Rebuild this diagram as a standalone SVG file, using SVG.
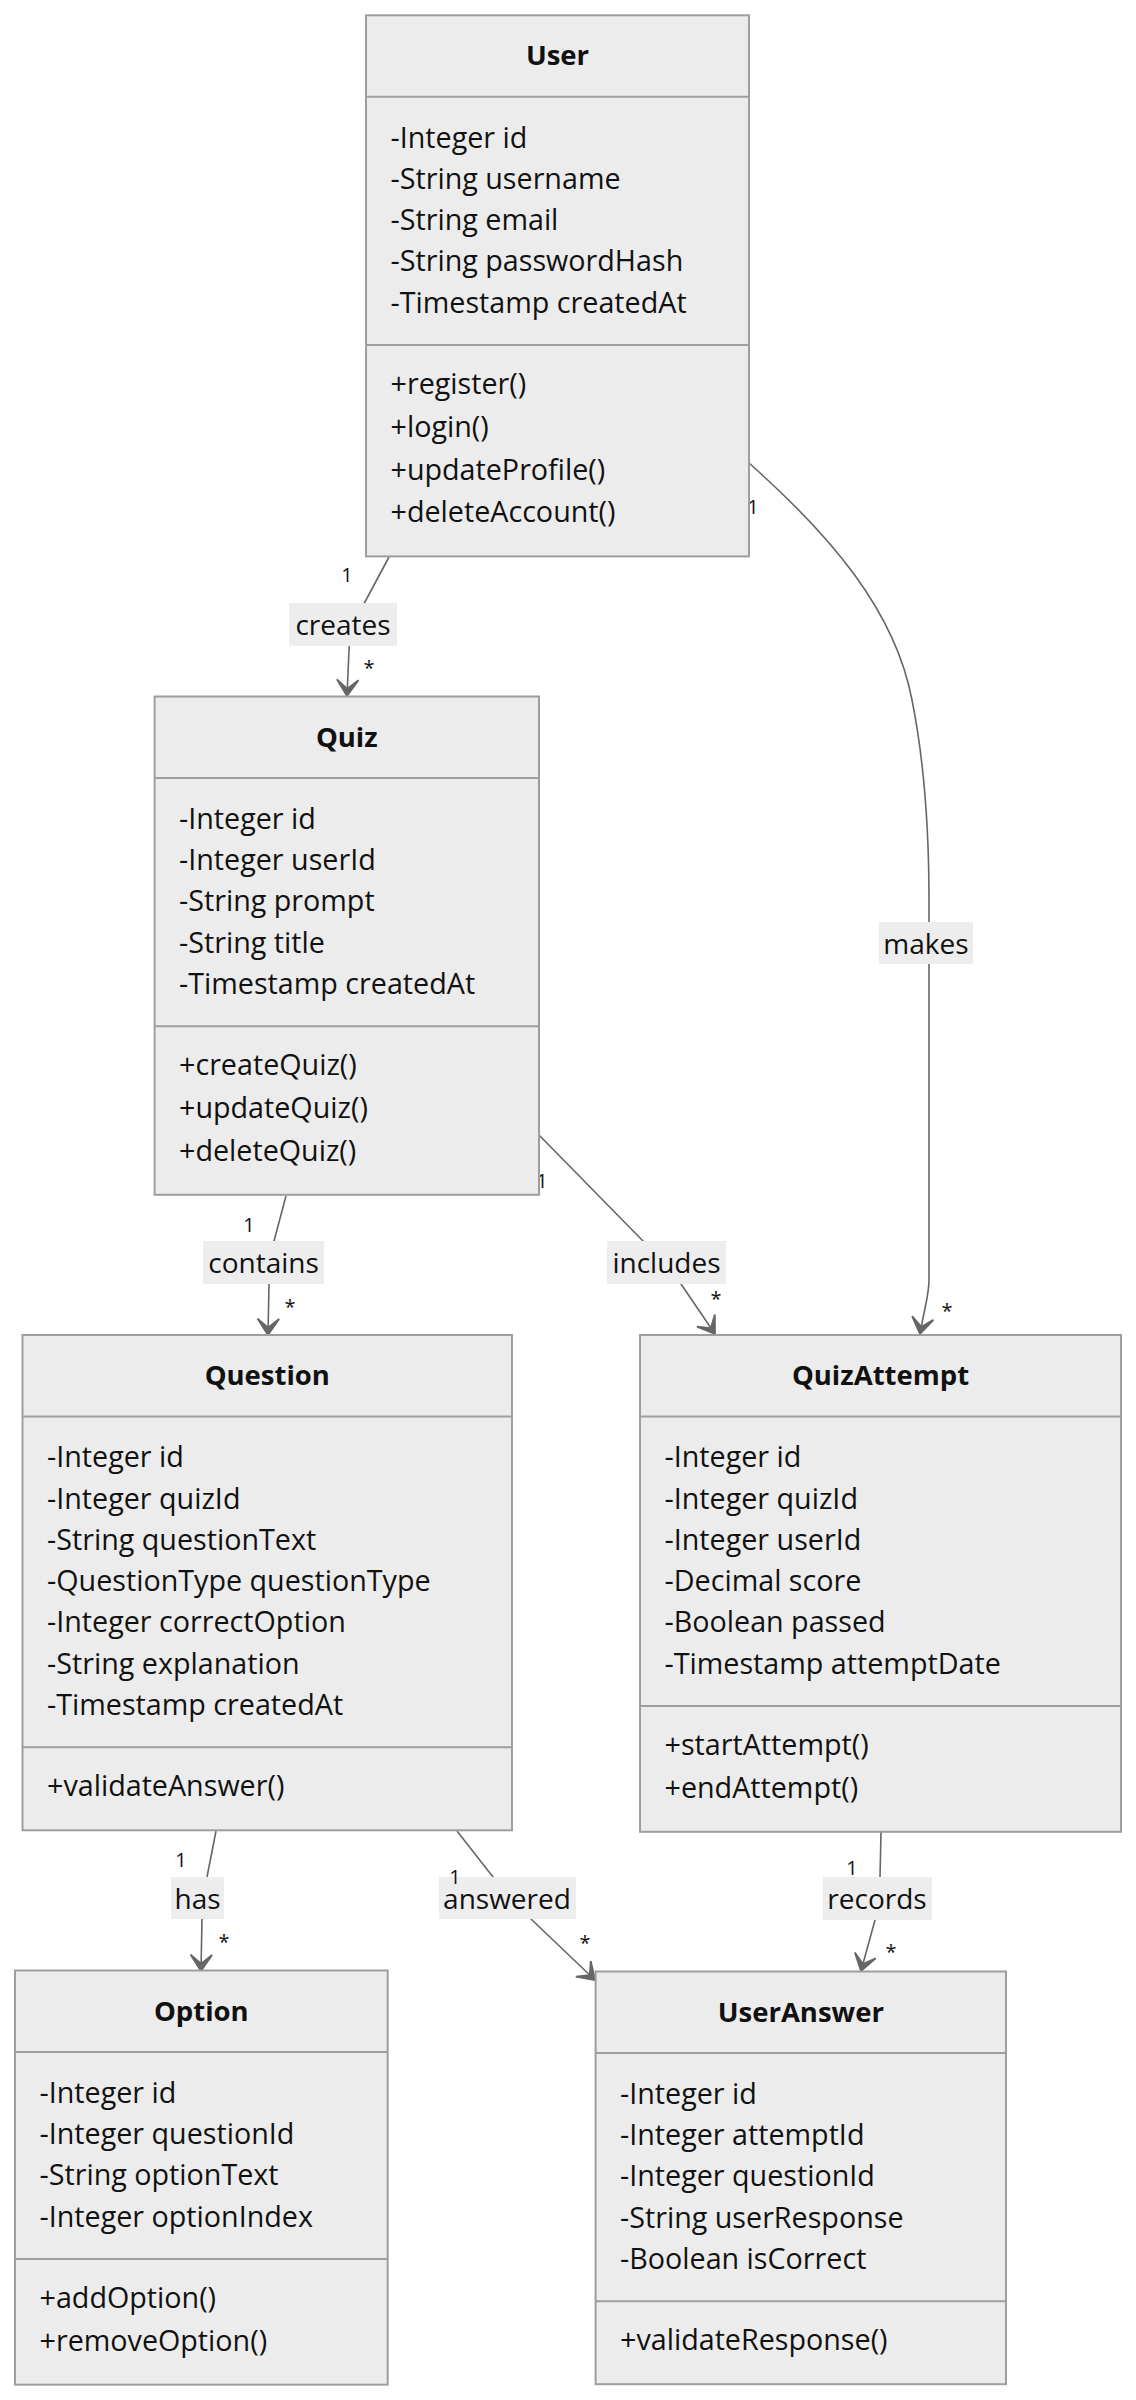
<svg xmlns="http://www.w3.org/2000/svg" width="1136" height="2400" viewBox="0 0 1136 2400">
<style>
.box{fill:#ECECEC;stroke:#9E9E9E;stroke-width:2}
.div{stroke:#9E9E9E;stroke-width:2}
.t{font-family:"Open Sans","DejaVu Sans",sans-serif;font-size:28.7px;fill:#111}
.title{font-family:"Open Sans","DejaVu Sans",sans-serif;font-size:27.5px;font-weight:bold;fill:#111;text-anchor:middle}
.edge{fill:none;stroke:#666;stroke-width:1.6}
.lbg{fill:#EDEDED}
.lbl{font-family:"Open Sans","DejaVu Sans",sans-serif;font-size:28px;fill:#111;text-anchor:middle}
.m{font-family:"Open Sans","DejaVu Sans",sans-serif;font-size:20px;fill:#111;text-anchor:middle}
</style>
<defs>
<marker id="arr" markerUnits="userSpaceOnUse" viewBox="0 0 20 14" refX="18" refY="7" markerWidth="36" markerHeight="25.2" orient="auto">
<path d="M18,7 L9,13 L14,7 L9,1 Z" fill="#666" stroke="#666" stroke-width="1"/>
</marker>
</defs>
<rect width="1136" height="2400" fill="#fff"/>

<g id="connectors">
<path class="edge" d="M389,557 L366,600 Q350,628 349,650 L347,696" marker-end="url(#arr)"/>
<path class="edge" d="M286,1196 L274,1241 Q269,1262 269,1284 L268,1335" marker-end="url(#arr)"/>
<path class="edge" d="M539,1135 L643,1241 Q668,1266 681,1284 L715,1334" marker-end="url(#arr)"/>
<path class="edge" d="M749,463 C830,535 895,610 912,700 C924,760 929,820 929,900 L929,1280 C929,1295 925,1305 920,1334" marker-end="url(#arr)"/>
<path class="edge" d="M216,1831 L207,1877 Q202,1898 202,1919 L201,1971" marker-end="url(#arr)"/>
<path class="edge" d="M457,1831 L493,1877 Q510,1900 531,1919 L595,1980" marker-end="url(#arr)"/>
<path class="edge" d="M881,1832 L880,1877 Q878,1900 875,1920 L861,1971" marker-end="url(#arr)"/>

<rect class="lbg" x="289" y="603" width="108" height="43"/>
<text class="lbl" x="343" y="635">creates</text>
<rect class="lbg" x="203" y="1241" width="121" height="43"/>
<text class="lbl" x="263.5" y="1273">contains</text>
<rect class="lbg" x="607" y="1241" width="119" height="43"/>
<text class="lbl" x="666.5" y="1273">includes</text>
<rect class="lbg" x="879" y="922" width="94" height="42"/>
<text class="lbl" x="926" y="953.5">makes</text>
<rect class="lbg" x="171" y="1877" width="53" height="42"/>
<text class="lbl" x="197.5" y="1908.5">has</text>
<rect class="lbg" x="439" y="1877" width="137" height="42"/>
<text class="lbl" x="507" y="1908.5">answered</text>
<rect class="lbg" x="823" y="1877" width="109" height="43"/>
<text class="lbl" x="877" y="1909">records</text>

<text class="m" x="347" y="582">1</text>
<text class="m" x="369" y="675">*</text>
<text class="m" x="249" y="1232">1</text>
<text class="m" x="290" y="1314">*</text>
<text class="m" x="542" y="1188">1</text>
<text class="m" x="716" y="1306">*</text>
<text class="m" x="753" y="514">1</text>
<text class="m" x="947" y="1318">*</text>
<text class="m" x="181" y="1867">1</text>
<text class="m" x="224" y="1949">*</text>
<text class="m" x="455" y="1884">1</text>
<text class="m" x="585" y="1950">*</text>
<text class="m" x="852" y="1875">1</text>
<text class="m" x="891" y="1959">*</text>
</g>

<g id="User">
<rect class="box" x="366" y="15.3" width="383" height="541.1"/>
<line class="div" x1="366" y1="96.8" x2="749" y2="96.8"/>
<line class="div" x1="366" y1="345" x2="749" y2="345"/>
<text class="title" x="557.5" y="65.3">User</text>
<text class="t" x="390.5" y="147.5">-Integer id</text>
<text class="t" x="390.5" y="188.8">-String username</text>
<text class="t" x="390.5" y="230.1">-String email</text>
<text class="t" x="390.5" y="271.4">-String passwordHash</text>
<text class="t" x="390.5" y="312.7">-Timestamp createdAt</text>
<text class="t" x="390.5" y="394">+register()</text>
<text class="t" x="390.5" y="436.8">+login()</text>
<text class="t" x="390.5" y="479.6">+updateProfile()</text>
<text class="t" x="390.5" y="522.4">+deleteAccount()</text>
</g>

<g id="Quiz">
<rect class="box" x="154.6" y="696.5" width="384.4" height="498.3"/>
<line class="div" x1="154.6" y1="778" x2="539" y2="778"/>
<line class="div" x1="154.6" y1="1026.2" x2="539" y2="1026.2"/>
<text class="title" x="346.8" y="746.5">Quiz</text>
<text class="t" x="179" y="828.7">-Integer id</text>
<text class="t" x="179" y="870">-Integer userId</text>
<text class="t" x="179" y="911.3">-String prompt</text>
<text class="t" x="179" y="952.6">-String title</text>
<text class="t" x="179" y="993.9">-Timestamp createdAt</text>
<text class="t" x="179" y="1075.2">+createQuiz()</text>
<text class="t" x="179" y="1118">+updateQuiz()</text>
<text class="t" x="179" y="1160.8">+deleteQuiz()</text>
</g>

<g id="Question">
<rect class="box" x="22.5" y="1335" width="489.5" height="495.3"/>
<line class="div" x1="22.5" y1="1416.5" x2="512" y2="1416.5"/>
<line class="div" x1="22.5" y1="1747.3" x2="512" y2="1747.3"/>
<text class="title" x="267.3" y="1385">Question</text>
<text class="t" x="47" y="1467.2">-Integer id</text>
<text class="t" x="47" y="1508.5">-Integer quizId</text>
<text class="t" x="47" y="1549.8">-String questionText</text>
<text class="t" x="47" y="1591.1">-QuestionType questionType</text>
<text class="t" x="47" y="1632.4">-Integer correctOption</text>
<text class="t" x="47" y="1673.7">-String explanation</text>
<text class="t" x="47" y="1715">-Timestamp createdAt</text>
<text class="t" x="47" y="1796.3">+validateAnswer()</text>
</g>

<g id="QuizAttempt">
<rect class="box" x="640" y="1335" width="481" height="496.8"/>
<line class="div" x1="640" y1="1416.5" x2="1121" y2="1416.5"/>
<line class="div" x1="640" y1="1706" x2="1121" y2="1706"/>
<text class="title" x="880.5" y="1385">QuizAttempt</text>
<text class="t" x="664.5" y="1467.2">-Integer id</text>
<text class="t" x="664.5" y="1508.5">-Integer quizId</text>
<text class="t" x="664.5" y="1549.8">-Integer userId</text>
<text class="t" x="664.5" y="1591.1">-Decimal score</text>
<text class="t" x="664.5" y="1632.4">-Boolean passed</text>
<text class="t" x="664.5" y="1673.7">-Timestamp attemptDate</text>
<text class="t" x="664.5" y="1755">+startAttempt()</text>
<text class="t" x="664.5" y="1797.8">+endAttempt()</text>
</g>

<g id="Option">
<rect class="box" x="15" y="1970.5" width="372.7" height="414.2"/>
<line class="div" x1="15" y1="2052" x2="387.7" y2="2052"/>
<line class="div" x1="15" y1="2258.9" x2="387.7" y2="2258.9"/>
<text class="title" x="201.3" y="2020.5">Option</text>
<text class="t" x="39.5" y="2102.7">-Integer id</text>
<text class="t" x="39.5" y="2144">-Integer questionId</text>
<text class="t" x="39.5" y="2185.3">-String optionText</text>
<text class="t" x="39.5" y="2226.6">-Integer optionIndex</text>
<text class="t" x="39.5" y="2307.9">+addOption()</text>
<text class="t" x="39.5" y="2350.7">+removeOption()</text>
</g>

<g id="UserAnswer">
<rect class="box" x="595.6" y="1971.5" width="410.4" height="412.7"/>
<line class="div" x1="595.6" y1="2053" x2="1006" y2="2053"/>
<line class="div" x1="595.6" y1="2301.2" x2="1006" y2="2301.2"/>
<text class="title" x="800.8" y="2021.5">UserAnswer</text>
<text class="t" x="620" y="2103.7">-Integer id</text>
<text class="t" x="620" y="2145">-Integer attemptId</text>
<text class="t" x="620" y="2186.3">-Integer questionId</text>
<text class="t" x="620" y="2227.6">-String userResponse</text>
<text class="t" x="620" y="2268.9">-Boolean isCorrect</text>
<text class="t" x="620" y="2350.2">+validateResponse()</text>
</g>
</svg>
